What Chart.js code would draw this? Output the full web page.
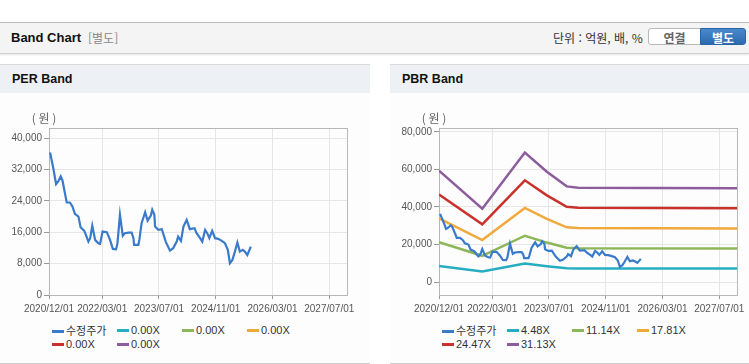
<!DOCTYPE html>
<html lang="ko">
<head>
<meta charset="utf-8">
<title>Band Chart</title>
<script src="https://cdn.jsdelivr.net/npm/chart.js@4.4.1/dist/chart.umd.min.js"></script>
<style>
  body { margin: 0; width: 749px; height: 364px; background: #fff; position: relative; overflow: hidden;
         font-family: Arial, "Liberation Sans", "Noto Sans CJK KR", sans-serif; }
  .top { position: absolute; left: 0; top: 22px; width: 749px; height: 30px; background: #f4f4f4;
         border-top: 1px solid #bcbcbc; border-bottom: 1px solid #cfcfcf; box-shadow: 0 1px 2px rgba(0,0,0,.10); }
  .top .ttl { position: absolute; left: 11px; top: 0; line-height: 30px; font-size: 13px; font-weight: bold; color: #111; }
  .top .sub { position: absolute; left: 88px; top: 0; line-height: 30px; font-size: 12px; color: #888;
              font-family: "Noto Sans CJK KR", sans-serif; }
  .top .unit { position: absolute; left: 553px; top: 0; line-height: 30px; font-size: 12px; color: #333;
               font-family: "Noto Sans CJK KR", sans-serif; }
  .btn { position: absolute; top: 5px; height: 17px; line-height: 17px; text-align: center; font-size: 12px;
         font-weight: bold; font-family: "Noto Sans CJK KR", sans-serif; box-sizing: border-box; }
  .btn.off { left: 648px; width: 53px; background: #fff; color: #666; border: 1px solid #b8b8b8; border-radius: 3px 0 0 3px; }
  .btn.on { left: 700px; width: 46px; background: linear-gradient(#4a88cc, #2c6bb2); color: #fff; border: 1px solid #2a64a8; border-radius: 0 3px 3px 0; }
  .panel { position: absolute; top: 64px; height: 298px; border-top: 1px solid #dadada; border-bottom: 1px solid #cdcdcd; background: #fdfdfd; }
  .panel .head { height: 28px; line-height: 28px; background: #edf1f6; padding-left: 12px; font-size: 12.5px; font-weight: bold; color: #111; }
  .panel canvas { display: block; }
  .legend { display: grid; grid-template-columns: repeat(4, 65px); grid-auto-rows: 14px; padding-left: 52px; margin-top: 5px;
            font-size: 11px; color: #333; }
  .legend span.item { white-space: nowrap; line-height: 14px; }
  .legend i { display: inline-block; width: 12px; height: 3px; vertical-align: middle; margin: -2px 2px 0 0; }
  .legend b { font-weight: normal; font-family: "Noto Sans CJK KR", sans-serif; }
</style>
</head>
<body>
<div class="top">
  <span class="ttl">Band Chart</span>
  <span class="sub">[별도]</span>
  <span class="unit">단위 : 억원, 배, %</span>
  <span class="btn off">연결</span>
  <span class="btn on">별도</span>
</div>

<div class="panel" style="left:0;width:370px">
  <div class="head">PER Band</div>
  <canvas id="perChart" width="370" height="225"></canvas>
  <div class="legend" id="perLegend"></div>
</div>

<div class="panel" style="left:390px;width:359px">
  <div class="head">PBR Band</div>
  <canvas id="pbrChart" width="359" height="225"></canvas>
  <div class="legend" id="pbrLegend"></div>
</div>

<script>
// x values are months counted from 2020/12/01
const xTickMonths = [0, 15, 31, 47, 63, 79];
const xTickLabels = ['2020/12/01', '2022/03/01', '2023/07/01', '2024/11/01', '2026/03/01', '2027/07/01'];

const perTicks = [0, 8000, 16000, 24000, 32000, 40000];
const pbrTicks = [0, 20000, 40000, 60000, 80000];

// 수정주가
const priceMonths = [0.3, 1.2, 2.0, 2.6, 3.3, 3.8, 4.3, 5.0, 5.9, 6.6, 7.3, 8.3, 8.9, 9.9, 10.4, 11.1, 11.6, 12.2, 13.0, 13.9,
  14.4, 15.1, 16.3, 17.2, 18.0, 18.9, 19.3, 20.0, 20.8, 21.4, 22.4, 23.3, 23.8, 24.0, 25.2, 25.5, 26.1, 27.1, 27.8, 28.7,
  29.1, 29.7, 29.9, 30.8, 31.8, 32.9, 34.1, 35.0, 36.0, 36.4, 37.2, 37.9, 38.8, 39.7, 41.0, 41.6, 42.6, 43.2, 44.0, 44.6,
  45.2, 46.0, 46.8, 47.7, 48.7, 49.6, 50.4, 51.0, 51.7, 52.4, 53.1, 53.8, 54.6, 55.2, 55.9, 56.9];
const priceValues = [36370, 32380, 28290, 28960, 30240, 29220, 26840, 23590, 23590, 22570, 20700, 20010, 17300, 16430, 15340, 13620, 14490, 17640, 14060, 13210,
  13040, 16180, 16030, 14060, 11760, 11680, 13210, 20450, 15080, 15770, 15930, 15930, 14490, 12780, 12780, 14240, 18330, 21140, 19000, 20270,
  21730, 20450, 17460, 16610, 16790, 13620, 11320, 11940, 13620, 14900, 13800, 17460, 19170, 16790, 17050, 15770, 14490, 13620, 16610, 15770,
  14490, 16360, 14490, 14310, 13800, 13210, 11500, 8100, 8950, 11070, 13380, 11070, 11500, 11070, 10220, 12350];

// PBR bands
const bandMonths = [0, 12.2, 24.2, 30.4, 36.0, 39.2, 84];
const pbr448 = [8550, 5630, 9930, 8460, 7340, 7240, 7200];
const pbr1114 = [21260, 13990, 24690, 21040, 18250, 18000, 17890];
const pbr1781 = [33980, 22370, 39470, 33640, 29170, 28780, 28600];
const pbr2447 = [46690, 30730, 54230, 46220, 40080, 39540, 39300];
const pbr3113 = [59400, 39100, 68980, 58810, 50990, 50310, 50000];

const perBandLabels = ['0.00X', '0.00X', '0.00X', '0.00X', '0.00X'];
const pbrBandLabels = ['4.48X', '11.14X', '17.81X', '24.47X', '31.13X'];
const bandColors = ['#27adc1', '#8db659', '#f0a93c', '#c8312c', '#8c5c9c'];
const priceColor = '#3a7acb';

Chart.defaults.font.family = "Arial, 'Liberation Sans', sans-serif";
Chart.defaults.color = '#555';

function points(xs, ys) {
  return ys.map((y, i) => ({ x: xs[i], y: y }));
}

const framePlugin = {
  id: 'frame',
  beforeDatasetsDraw(chart) {
    const { ctx, chartArea: a } = chart;
    ctx.save();
    ctx.strokeStyle = '#b7b7b7';
    ctx.lineWidth = 1;
    ctx.strokeRect(Math.round(a.left) + 0.5, Math.round(a.top) + 0.5, Math.round(a.right - a.left), Math.round(a.bottom - a.top));
    ctx.restore();
  },
  afterDraw(chart) {
    const { ctx, chartArea: a } = chart;
    ctx.save();
    ctx.fillStyle = '#666';
    ctx.font = "12px 'Noto Sans CJK KR', sans-serif";
    ctx.textAlign = 'center';
    ctx.textBaseline = 'middle';
    ctx.fillText('( 원 )', a.left - 5, a.top - 10);
    ctx.restore();
  }
};

function makeChart(id, bandLabels, bands, yMin, yMax, yTicks, rightPad) {
  const datasets = [{
    label: '수정주가',
    data: points(priceMonths, priceValues),
    borderColor: priceColor,
    borderWidth: 2.2,
    order: 0
  }];
  bandLabels.forEach((lab, i) => {
    datasets.push({
      label: lab,
      data: bands[i] ? points(bandMonths, bands[i]) : [],
      borderColor: bandColors[i],
      borderWidth: 2.5,
      order: 1
    });
  });

  return new Chart(document.getElementById(id), {
    type: 'line',
    data: { datasets: datasets },
    options: {
      responsive: false,
      animation: false,
      elements: { point: { radius: 0 }, line: { tension: 0 } },
      layout: { padding: { top: 35, right: rightPad, left: 0, bottom: 0 } },
      plugins: { legend: { display: false }, tooltip: { enabled: false } },
      scales: {
        x: {
          type: 'linear',
          min: 0,
          max: 84,
          afterBuildTicks: s => { s.ticks = xTickMonths.map(v => ({ value: v })); },
          afterFit: s => { s.height = 23; },
          grid: { color: '#e6e6e6', tickColor: '#9a9a9a', tickLength: 4 },
          border: { color: '#a8a8a8' },
          ticks: {
            autoSkip: false, maxRotation: 0, padding: 4,
            font: { size: 10 }, color: '#555',
            callback: v => xTickLabels[xTickMonths.indexOf(v)]
          }
        },
        y: {
          min: yMin,
          max: yMax,
          afterBuildTicks: s => { s.ticks = yTicks.map(v => ({ value: v })); },
          afterFit: s => { s.width = 49; },
          grid: { color: '#e6e6e6', tickColor: '#9a9a9a', tickLength: 5 },
          border: { color: '#a8a8a8' },
          ticks: {
            padding: 2,
            font: { size: 10 }, color: '#555',
            callback: v => v.toLocaleString('en-US')
          }
        }
      }
    },
    plugins: [framePlugin]
  });
}

function buildLegend(chart, el) {
  chart.data.datasets.forEach(ds => {
    const item = document.createElement('span');
    item.className = 'item';
    const mark = document.createElement('i');
    mark.style.background = ds.borderColor;
    const txt = document.createElement(ds.label === '수정주가' ? 'b' : 'span');
    txt.textContent = ds.label;
    item.appendChild(mark);
    item.appendChild(txt);
    el.appendChild(item);
  });
}

const perChart = makeChart('perChart', perBandLabels, [], 0, 42600, perTicks, 23);
const pbrChart = makeChart('pbrChart', pbrBandLabels, [pbr448, pbr1114, pbr1781, pbr2447, pbr3113], -6900, 82100, pbrTicks, 12);
buildLegend(perChart, document.getElementById('perLegend'));
buildLegend(pbrChart, document.getElementById('pbrLegend'));
</script>
</body>
</html>
